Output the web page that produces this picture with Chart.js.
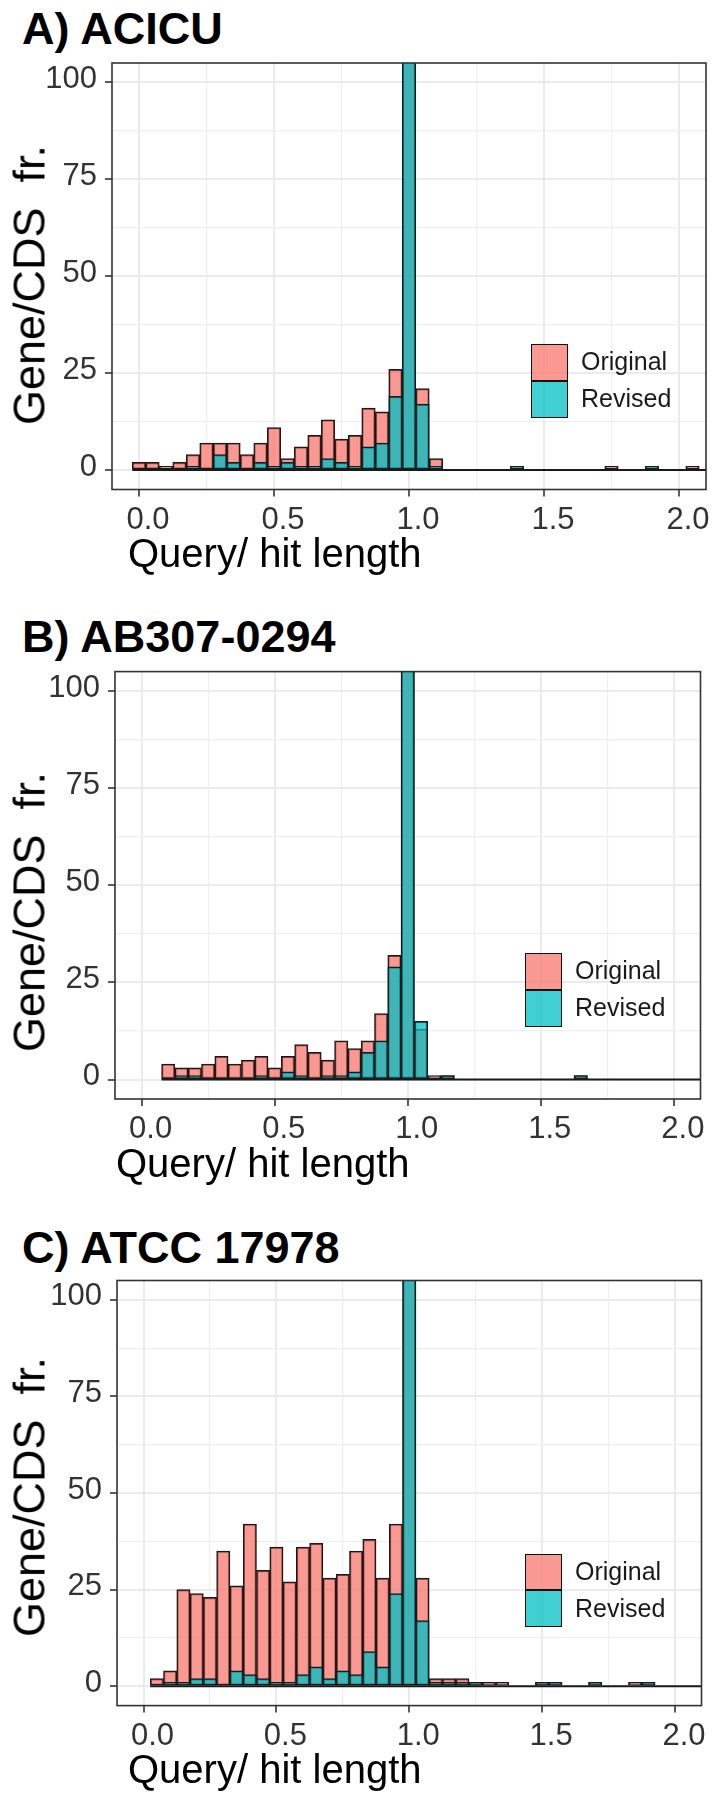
<!DOCTYPE html>
<html>
<head>
<meta charset="utf-8">
<script src="https://cdn.jsdelivr.net/npm/chart.js@4.4.0/dist/chart.umd.min.js"></script>
<style>
html,body{margin:0;padding:0;background:#fff;}
body{width:715px;height:1796px;position:relative;overflow:hidden;font-family:"Liberation Sans",Arial,Helvetica,sans-serif;}
.panel{position:absolute;left:0;width:715px;}
.ptitle{position:absolute;left:22px;font-weight:bold;font-size:45px;line-height:45px;color:#000;white-space:nowrap;}
.xtitle{position:absolute;font-size:40px;line-height:40px;color:#000;white-space:nowrap;}
.ytitle{position:absolute;font-size:45px;line-height:45px;color:#000;white-space:pre;transform:translate(-50%,-50%) rotate(-90deg);}
.sw{position:absolute;border:1.5px solid #111;box-sizing:border-box;width:37px;}
.lt{position:absolute;font-size:25px;line-height:25px;color:#1a1a1a;white-space:nowrap;}
</style>
</head>
<body>

<div class="ptitle" style="top:6px;">A) ACICU</div>
<div class="panel" style="top:0px;height:600px;"><canvas id="cA"></canvas></div>
<div class="ytitle" style="left:29px;top:285px;">Gene/CDS  fr.</div>
<div class="xtitle" style="left:128px;top:533px;">Query/ hit length</div>
<div class="sw" style="left:531px;top:344px;height:37px;background:rgba(248,118,109,0.75);"></div>
<div class="sw" style="left:531px;top:381px;height:37px;background:rgba(0,191,196,0.75);"></div>
<div class="lt" style="left:581px;top:349px;">Original</div>
<div class="lt" style="left:581px;top:386px;">Revised</div>

<div class="ptitle" style="top:614px;">B) AB307-0294</div>
<div class="panel" style="top:600px;height:590px;"><canvas id="cB"></canvas></div>
<div class="ytitle" style="left:29px;top:912px;">Gene/CDS  fr.</div>
<div class="xtitle" style="left:116px;top:1143px;">Query/ hit length</div>
<div class="sw" style="left:525px;top:953px;height:36.5px;background:rgba(248,118,109,0.75);"></div>
<div class="sw" style="left:525px;top:989.5px;height:37px;background:rgba(0,191,196,0.75);"></div>
<div class="lt" style="left:575px;top:958px;">Original</div>
<div class="lt" style="left:575px;top:995px;">Revised</div>

<div class="ptitle" style="top:1225px;">C) ATCC 17978</div>
<div class="panel" style="top:1190px;height:606px;"><canvas id="cC"></canvas></div>
<div class="ytitle" style="left:29px;top:1497px;">Gene/CDS  fr.</div>
<div class="xtitle" style="left:128px;top:1749px;">Query/ hit length</div>
<div class="sw" style="left:525px;top:1553.5px;height:36.5px;background:rgba(248,118,109,0.75);"></div>
<div class="sw" style="left:525px;top:1590px;height:37px;background:rgba(0,191,196,0.75);"></div>
<div class="lt" style="left:575px;top:1559px;">Original</div>
<div class="lt" style="left:575px;top:1596px;">Revised</div>

<script>
// ---- data ----
const binCenters = [0.00,0.05,0.10,0.15,0.20,0.25,0.30,0.35,0.40,0.45,
                    0.50,0.55,0.60,0.65,0.70,0.75,0.80,0.85,0.90,0.95,
                    1.00,1.05,1.10,1.15,1.20,1.25,1.30,1.35,1.40,1.45,
                    1.50,1.55,1.60,1.65,1.70,1.75,1.80,1.85,1.90,1.95,
                    2.00,2.05];

const originalA = [2,2,1,2,4,7,7,7,4,7, 11,3,6,9,13,8,9,16,15,26, 135,21,3,0,0,0,0,0,1,0, 0,0,0,0,0,1,0,0,1,0, 0,1];
const revisedA  = [0,0,0,0,1,0,4,2,0,2, 1,2,1,1,3,2,1,6,7,19, 130,17,1,0,0,0,0,0,1,0, 0,0,0,0,0,0,0,0,1,0, 0,0];

const originalB = [0,0,4,3,3,4,6,4,5,6, 3,6,9,7,5,10,8,10,17,32, 135,13,1,1,0,0,0,0,0,0, 0,0,0,1,0,0,0,0,0,0, 0,0];
const revisedB  = [0,0,0,1,1,0,0,0,0,1, 0,2,1,0,1,1,2,7,10,29, 130,15,0,1,0,0,0,0,0,0, 0,0,0,1,0,0,0,0,0,0, 0,0];

const originalC = [0,2,4,25,24,23,35,26,42,30, 36,27,36,37,28,29,35,38,28,42, 135,28,2,2,2,1,1,1,0,0, 1,1,0,0,1,0,0,1,1,0, 0,0];
const revisedC  = [0,0,1,1,2,2,0,4,3,2, 1,1,3,5,2,4,3,9,5,24, 130,17,1,1,1,1,0,0,0,0, 1,1,0,0,1,0,0,0,1,0, 0,0];

// zero-count bins drawn as a baseline (start edge, end)
const zeroSpanA = [-0.025, 2.2];
const zeroSpanB = [0.075, 2.2];
const zeroSpanC = [0.025, 2.2];

const xTickValues = [0,0.25,0.5,0.75,1,1.25,1.5,1.75,2];
const yTickValues = [0,12.5,25,37.5,50,62.5,75,87.5,100];
const xRange = [-0.1, 2.1];
const yRange = [-5, 105];

// ---- drawing ----
const FONT = "'Liberation Sans', Arial, Helvetica, sans-serif";
function isMajor(v, step){ const r = v/step; return Math.abs(r - Math.round(r)) < 1e-6; }

const framePlugin = {
  id: 'frame',
  afterDatasetsDraw(chart){
    const {ctx, chartArea:{left, top, right, bottom}} = chart;
    ctx.save();
    ctx.strokeStyle = '#333';
    ctx.lineWidth = 1.6;
    ctx.strokeRect(left, top, right-left, bottom-top);
    ctx.restore();
  }
};

function toPoints(arr){
  const pts = [];
  binCenters.forEach((x,i) => { if (arr[i] > 0) pts.push({x: x, y: arr[i]}); });
  return pts;
}

function makePanel(id, orig, rev, span, geo){
  const canvas = document.getElementById(id);
  return new Chart(canvas, {
    type: 'bar',
    data: {
      datasets: [
        {type:'line', data: span.map(x => ({x: x, y: 0})), borderColor:'#1a1a1a', borderWidth:2,
         pointRadius:0, tension:0, order:0},
        {type:'bar', label:'Revised', data: toPoints(rev), backgroundColor:'rgba(0,191,196,0.75)',
         borderColor:'#1a1a1a', borderWidth:1.5, borderSkipped:false, grouped:false,
         barPercentage:1, categoryPercentage:1, order:1},
        {type:'bar', label:'Original', data: toPoints(orig), backgroundColor:'rgba(248,118,109,0.75)',
         borderColor:'#1a1a1a', borderWidth:1.5, borderSkipped:false, grouped:false,
         barPercentage:1, categoryPercentage:1, order:2}
      ]
    },
    options: {
      responsive: true,
      maintainAspectRatio: false,
      animation: false,
      devicePixelRatio: 1,
      events: [],
      layout: {padding: {left: 0, right: 715 - geo.right, top: geo.top, bottom: 0}},
      plugins: {legend: {display: false}, title: {display: false}, tooltip: {enabled: false}},
      scales: {
        x: {
          type: 'linear', min: xRange[0], max: xRange[1], offset: false,
          afterBuildTicks: ax => { ax.ticks = xTickValues.map(v => ({value: v})); },
          afterFit: ax => { ax.height = geo.h - geo.bottom; },
          grid: {
            offset: false,
            color: c => (c.tick && isMajor(c.tick.value, 0.5)) ? '#EBEBEB' : '#EFEFEF',
            lineWidth: c => (c.tick && isMajor(c.tick.value, 0.5)) ? 2 : 1.2,
            tickLength: 7,
            tickColor: c => (c.tick && isMajor(c.tick.value, 0.5)) ? '#333' : 'rgba(0,0,0,0)',
            tickWidth: 1.6
          },
          border: {display: false},
          ticks: {
            autoSkip: false, maxRotation: 0, minRotation: 0, padding: 5, labelOffset: 9,
            color: '#333', font: {family: FONT, size: 31},
            callback: v => isMajor(v, 0.5) ? Number(v).toFixed(1) : ''
          }
        },
        y: {
          type: 'linear', min: yRange[0], max: yRange[1],
          afterBuildTicks: ax => { ax.ticks = yTickValues.map(v => ({value: v})); },
          afterFit: ax => { ax.width = geo.left; },
          grid: {
            color: c => (c.tick && isMajor(c.tick.value, 25)) ? '#EBEBEB' : '#EFEFEF',
            lineWidth: c => (c.tick && isMajor(c.tick.value, 25)) ? 2 : 1.2,
            tickLength: 7,
            tickColor: c => (c.tick && isMajor(c.tick.value, 25)) ? '#333' : 'rgba(0,0,0,0)',
            tickWidth: 1.6
          },
          border: {display: false},
          ticks: {
            autoSkip: false, padding: 8, labelOffset: -3,
            color: '#333', font: {family: FONT, size: 31},
            callback: v => isMajor(v, 25) ? String(v) : ''
          }
        }
      }
    },
    plugins: [framePlugin]
  });
}

makePanel('cA', originalA, revisedA, zeroSpanA, {h:600, left:112, right:706, top:63, bottom:489.5});
makePanel('cB', originalB, revisedB, zeroSpanB, {h:590, left:115, right:700.5, top:71.6, bottom:499});
makePanel('cC', originalC, revisedC, zeroSpanC, {h:606, left:117, right:701.5, top:90.5, bottom:515.6});
</script>
</body>
</html>
